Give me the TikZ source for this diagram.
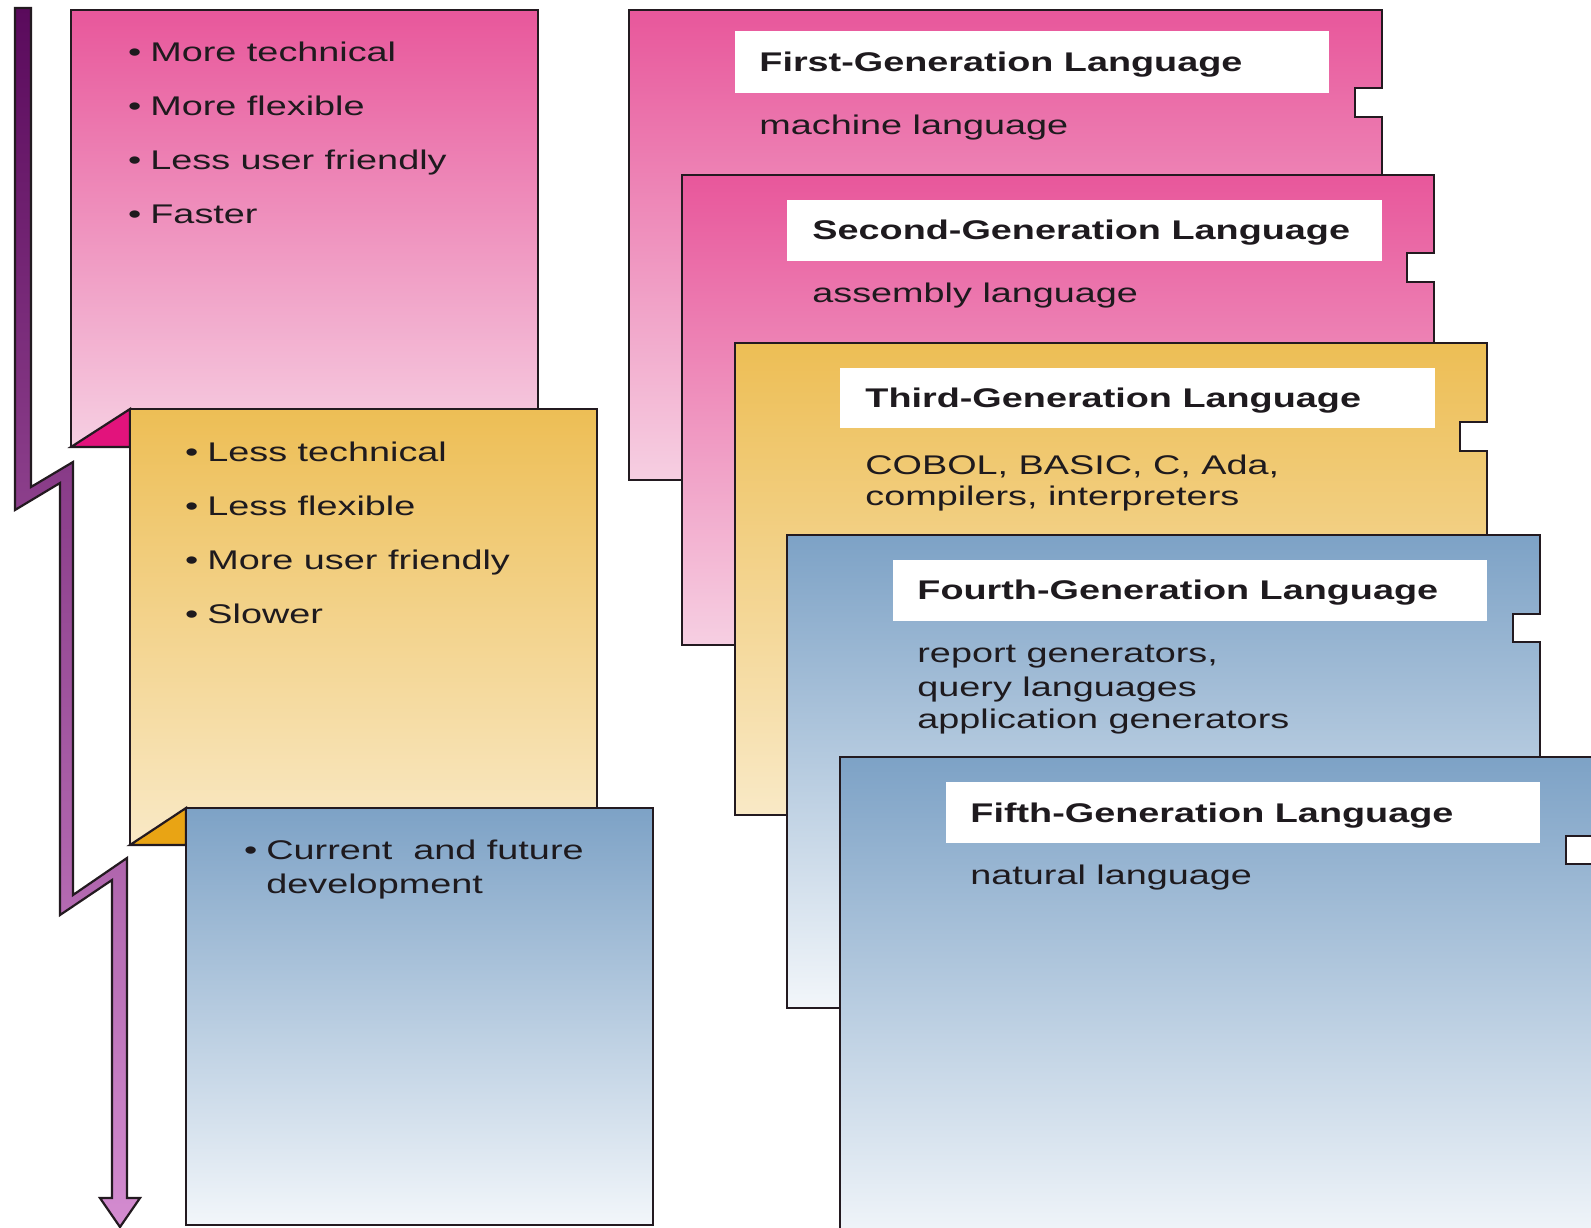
\documentclass[tikz,border=0pt]{standalone}
\usepackage{fontspec}
\setmainfont{Liberation Sans}[FakeStretch=1.4]
\definecolor{pinktop}{HTML}{E8579B}
\definecolor{pinkbot}{HTML}{F6CFE2}
\definecolor{goldtop}{HTML}{EDBE55}
\definecolor{goldbot}{HTML}{F9E9C6}
\definecolor{bluetop}{HTML}{7DA2C6}
\definecolor{bluebot}{HTML}{F2F6FA}
\definecolor{foldpink}{HTML}{E2137C}
\definecolor{foldgold}{HTML}{E9A414}
\definecolor{arrowtop}{HTML}{5A0A5C}
\definecolor{arrowbot}{HTML}{D48CD0}
\definecolor{edgecol}{HTML}{231A20}
\definecolor{textcol}{HTML}{1E1A1E}
\tikzset{
  outline/.style={draw=edgecol, line width=1.1pt, line join=miter},
  pinkcard/.style={outline, top color=pinktop, bottom color=pinkbot},
  goldcard/.style={outline, top color=goldtop, bottom color=goldbot},
  bluecard/.style={outline, top color=bluetop, bottom color=bluebot},
  labelbox/.style={fill=white},
  txt/.style={anchor=base west, inner sep=0pt, text=textcol,
    font=\fontsize{13.5}{16}\selectfont},
  head/.style={txt, font=\fontsize{13.5}{16}\selectfont\bfseries},
  bul/.style={txt, execute at begin node={\makebox[0pt][r]{\textbullet\hspace{4.5pt}}}},
}
\begin{document}
\begin{tikzpicture}[x=0.5pt, y=-0.5pt]
\useasboundingbox (0,0) rectangle (1591,1227);
\clip (0,0) rectangle (1591,1227);

% zigzag timeline arrow on the left
\path[outline, top color=arrowtop, bottom color=arrowbot]
  (15,8) -- (15,510) -- (60,483) -- (60,915) -- (112,880) -- (112,1198)
  -- (100,1198) -- (120,1227) -- (140,1198) -- (127,1198) -- (127,858)
  -- (73,895) -- (73,462) -- (31,487) -- (31,8) -- cycle;

% left column of summary cards
\path[pinkcard] (71,10) rectangle (538,447);
\path[outline, fill=foldpink] (71,447) -- (130,409) -- (130,447) -- cycle;
\path[goldcard] (130,409) rectangle (597,845);
\path[outline, fill=foldgold] (130,845) -- (186,808) -- (186,845) -- cycle;
\path[bluecard] (186,808) rectangle (653,1225);

\node[bul] (l1a) at (150,61)  {More technical};
\node[bul] (l1b) at (150,115) {More flexible};
\node[bul] (l1c) at (150,169) {Less user friendly};
\node[bul] (l1d) at (150,223) {Faster};

\node[bul] (l2a) at (207,461) {Less technical};
\node[bul] (l2b) at (207,515) {Less flexible};
\node[bul] (l2c) at (207,569) {More user friendly};
\node[bul] (l2d) at (207,623) {Slower};

\node[bul] (l3a) at (266,859) {Current\ \ and future};
\node[txt] (l3b) at (266,893) {development};

% stacked generation cards with side notch
% First generation
\path[pinkcard] (629,10) -- ++(753,0) -- ++(0,78) -- ++(-27,0) -- ++(0,29)
  -- ++(27,0) -- ++(0,363) -- ++(-753,0) -- cycle;
\fill[labelbox] (735,31) rectangle ++(594,62);
\node[head] (g1) at (759,71) {First-Generation Language};
\node[txt] (g1s) at (759,134) {machine language};

% Second generation
\path[pinkcard] (682,175) -- ++(752,0) -- ++(0,78) -- ++(-27,0) -- ++(0,29)
  -- ++(27,0) -- ++(0,363) -- ++(-752,0) -- cycle;
\fill[labelbox] (787,200) rectangle ++(595,61);
\node[head] (g2) at (812,239) {Second-Generation Language};
\node[txt] (g2s) at (812,302) {assembly language};

% Third generation
\path[goldcard] (735,343) -- ++(752,0) -- ++(0,79) -- ++(-27,0) -- ++(0,29)
  -- ++(27,0) -- ++(0,364) -- ++(-752,0) -- cycle;
\fill[labelbox] (840,368) rectangle ++(595,60);
\node[head] (g3) at (865,407) {Third-Generation Language};
\node[txt] (g3s) at (865,474) {COBOL, BASIC, C, Ada,};
\node[txt] (g3t) at (865,505) {compilers, interpreters};

% Fourth generation
\path[bluecard] (787,535) -- ++(753,0) -- ++(0,79) -- ++(-27,0) -- ++(0,28)
  -- ++(27,0) -- ++(0,366) -- ++(-753,0) -- cycle;
\fill[labelbox] (893,560) rectangle ++(594,61);
\node[head] (g4) at (917,599) {Fourth-Generation Language};
\node[txt] (g4s) at (917,662) {report generators,};
\node[txt] (g4t) at (917,696) {query languages};
\node[txt] (g4u) at (917,728) {application generators};

% Fifth generation
\path[bluecard] (840,757) -- ++(753,0) -- ++(0,79) -- ++(-27,0) -- ++(0,28)
  -- ++(27,0) -- ++(0,380) -- ++(-753,0) -- cycle;
\fill[labelbox] (946,782) rectangle ++(594,61);
\node[head] (g5) at (970,822) {Fifth-Generation Language};
\node[txt] (g5s) at (970,884) {natural language};
\end{tikzpicture}
\end{document}
